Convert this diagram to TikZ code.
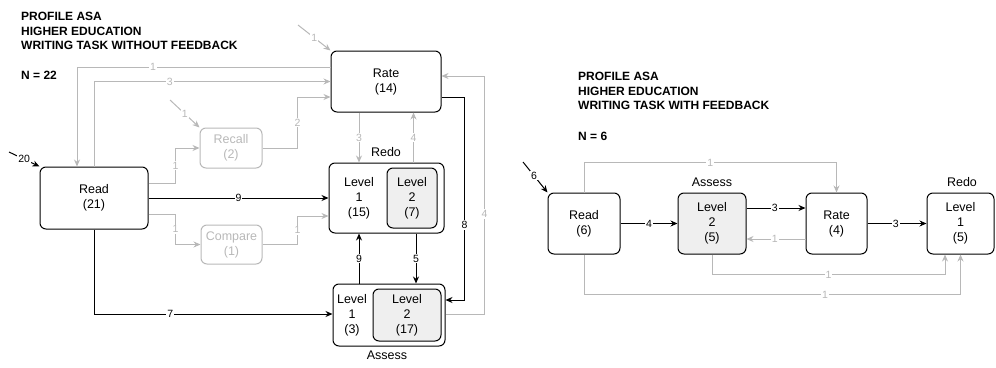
\documentclass[tikz,border=0pt]{standalone}
\usepackage{fontspec}
\setmainfont{Liberation Sans}
\usetikzlibrary{arrows.meta}
\definecolor{lgray}{HTML}{B8B8B8}
\definecolor{lfill}{HTML}{EFEFEF}

\begin{document}
\begin{tikzpicture}[x=1pt,y=-1pt,
	box/.style={draw,rounded corners=6pt,line width=1pt,align=center,inner sep=0pt,font=\fontsize{12.5}{15}\selectfont},
	gbox/.style={box,draw=lgray,text=lgray},
	lvl/.style={box,fill=lfill},
	txt/.style={align=center,inner sep=0pt,font=\fontsize{12.5}{15}\selectfont},
	ttl/.style={anchor=north west,align=left,inner sep=0pt,font=\bfseries\fontsize{12}{14.5}\selectfont},
	arr/.style={-{Stealth[length=7pt,width=6pt]},line width=1pt},
	garr/.style={arr,draw=lgray},
	num/.style={fill=white,inner sep=1pt,font=\fontsize{10.5}{10.5}\selectfont},
	gnum/.style={num,text=lgray}]
	\useasboundingbox (0,0) rectangle (996,367);
	
	% without feedback
	\node[ttl] (t1) at (21,12) {PROFILE ASA\\HIGHER EDUCATION\\WRITING TASK WITHOUT FEEDBACK};
	\node[ttl,anchor=west] (n1) at (21,75) {N = 22};
	
	\node[box, minimum width=108, minimum height=62] (read) at (94,198) {Read\\(21)};
	\node[box, minimum width=110, minimum height=61] (rate) at (386,81.5) {Rate\\(14)};
	\node[gbox, minimum width=62, minimum height=40] (recall) at (231,148) {Recall\\(2)};
	\node[gbox, minimum width=61, minimum height=39] (compare) at (231.5,244.5) {Compare\\(1)};
	
	\node[box, minimum width=115, minimum height=70] (redo) at (386.5,198) {};
	\node[txt] (redoa) at (359,198) {Level\\1\\(15)};
	\node[lvl, minimum width=50, minimum height=60] (redob) at (412,198) {Level\\2\\(7)};
	\node[txt] (redolbl) at (386,152) {Redo};
	
	\node[box, minimum width=112, minimum height=62] (assess) at (389,315) {};
	\node[txt] (assa) at (352,315) {Level\\1\\(3)};
	\node[lvl, minimum width=68, minimum height=52] (assb) at (407,315) {Level\\2\\(17)};
	\node[txt] (asslbl) at (387,355) {Assess};
	
	\coordinate (in20) at (9,152);
	\coordinate (inrate) at (298,25);
	\coordinate (inrecall) at (170,100);
	
	\draw[arr] (in20) -- (read.north west) node[num,pos=0.5] {20};
	\draw[garr] (inrate) -- (rate.north west) node[gnum,pos=0.5] {1};
	\draw[garr] (inrecall) -- (recall.north west) node[gnum,pos=0.5] {1};
	
	\draw[garr] ([yshift=14.5pt]rate.west) -| ([xshift=-17pt]read.north) node[gnum,pos=0.35] {1};
	\draw[garr] (read.north) |- (rate.west) node[gnum,pos=0.66] {3};
	\draw[garr] (recall.east) -- ++(35,0) |- ([yshift=-15.5pt]rate.west) node[gnum,pos=0.25] {2};
	\draw[garr] ([yshift=15pt]read.east) -- ++(27,0) |- (recall.west) node[gnum,pos=0.25] {1};
	\draw[arr] (read.east) -- (redo.west) node[num,pos=0.5] {9};
	\draw[garr] ([yshift=-16pt]read.east) -- ++(27,0) |- (compare.west) node[gnum,pos=0.25] {1};
	\draw[garr] (compare.east) -- ++(35,0) |- ([yshift=-18pt]redo.west) node[gnum,pos=0.25] {1};
	\draw[garr] ([xshift=-27pt]rate.south) -- ([xshift=-27pt]rate.south |- redo.north) node[gnum,pos=0.5] {3};
	\draw[garr] ([xshift=27pt]redo.north) -- ([xshift=27pt]redo.north |- rate.south) node[gnum,pos=0.5] {4};
	\draw[arr] ([yshift=-15.5pt]rate.east) -- ++(23,0) |- ([yshift=15pt]assess.east) node[num,pos=0.315] {8};
	\draw[garr] ([yshift=1pt]assess.east) -- ++(39,0) |- ([yshift=5.5pt]rate.east) node[gnum,pos=0.21] {4};
	\draw[arr] ([xshift=-30pt]assess.north) -- ([xshift=-30pt]assess.north |- redo.south) node[num,pos=0.5] {9};
	\draw[arr] ([xshift=29.5pt]redo.south) -- ([xshift=29.5pt]redo.south |- assess.north) node[num,pos=0.5] {5};
	\draw[arr] (read.south) |- ([yshift=1pt]assess.west) node[num,pos=0.66] {7};
	
	% with feedback
	\node[ttl] (t2) at (578,72) {PROFILE ASA\\HIGHER EDUCATION\\WRITING TASK WITH FEEDBACK};
	\node[ttl,anchor=west] (n2) at (578,136) {N = 6};
	
	\node[box, minimum width=72, minimum height=61] (rread) at (584,223.5) {Read\\(6)};
	\node[lvl, minimum width=68, minimum height=61] (rass) at (712,223.5) {Level\\2\\(5)};
	\node[box, minimum width=61, minimum height=61] (rrate) at (836.5,223.5) {Rate\\(4)};
	\node[box, minimum width=67, minimum height=61] (rredo) at (960.5,223.5) {Level\\1\\(5)};
	\node[txt] (rasslbl) at (712,182) {Assess};
	\node[txt] (rredolbl) at (962,182) {Redo};
	
	\coordinate (in6) at (523,162);
	\draw[arr] (in6) -- (rread.north west) node[num,pos=0.45] {6};
	
	\draw[arr] (rread.east) -- (rass.west) node[num,pos=0.5] {4};
	\draw[arr] ([yshift=15.5pt]rass.east) -- ([yshift=15.5pt]rrate.west) node[num,pos=0.48] {3};
	\draw[garr] ([yshift=-15.5pt]rrate.west) -- ([yshift=-15.5pt]rass.east) node[gnum,pos=0.52] {1};
	\draw[arr] (rrate.east) -- (rredo.west) node[num,pos=0.48] {3};
	\draw[garr] (rread.north) -- ++(0,-30) -| (rrate.north) node[gnum,pos=0.25] {1};
	\draw[garr] (rass.south) -- ++(0,20) -| ([xshift=-15.5pt]rredo.south) node[gnum,pos=0.25] {1};
	\draw[garr] (rread.south) -- ++(0,40) -| (rredo.south) node[gnum,pos=0.32] {1};
\end{tikzpicture}
\end{document}
